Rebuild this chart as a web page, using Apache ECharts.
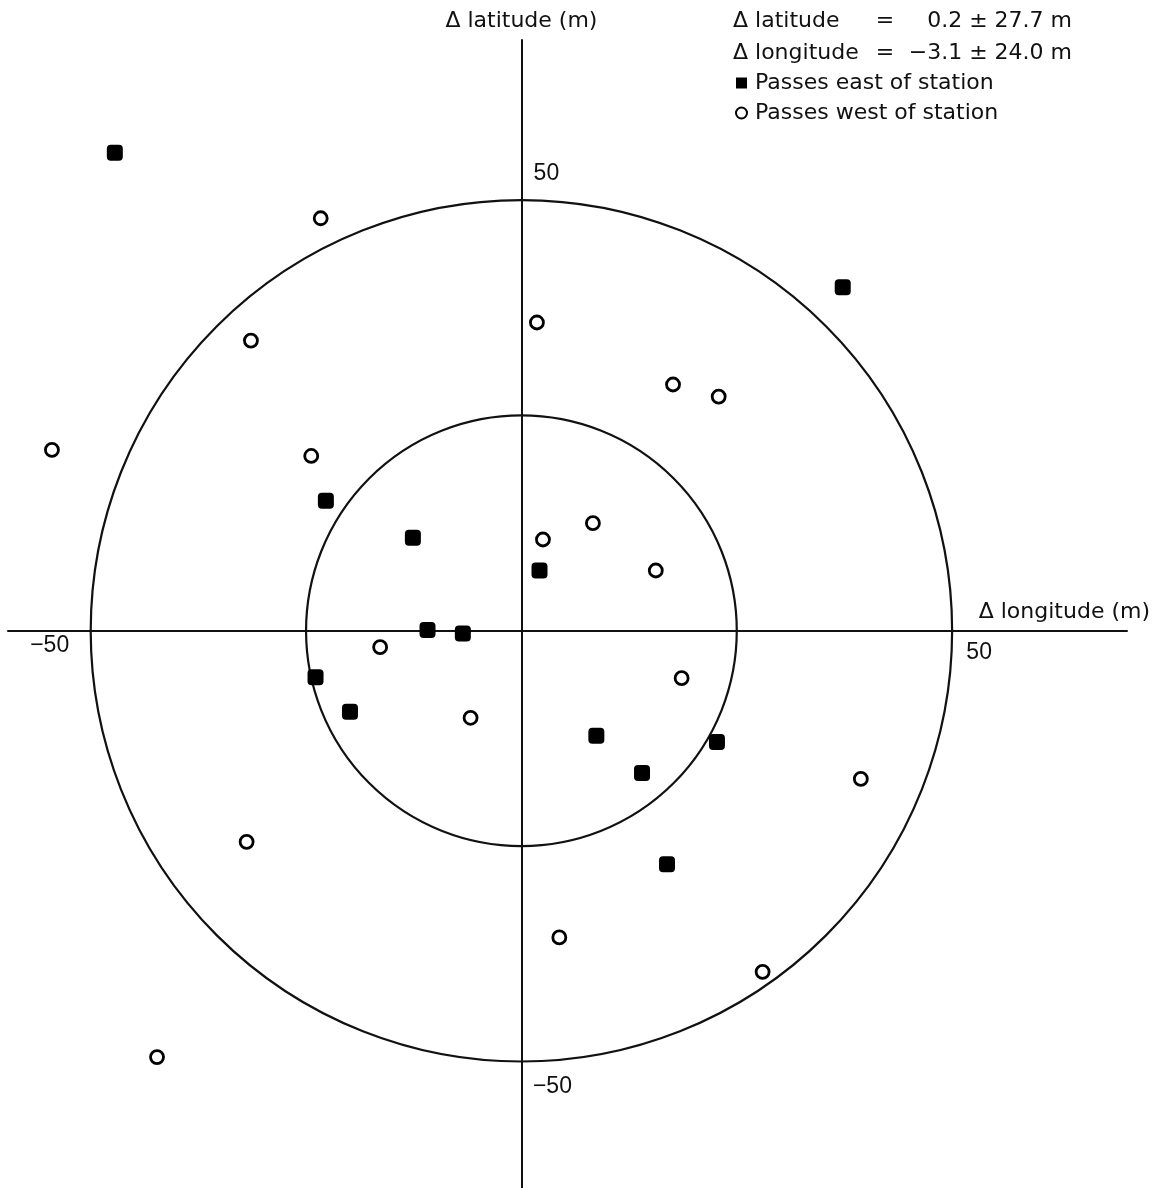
<!DOCTYPE html>
<html>
<head>
<meta charset="utf-8">
<script src="https://cdn.jsdelivr.net/npm/echarts@6/dist/echarts.min.js"></script>
<style>html,body{margin:0;padding:0;background:#fff;}#c{width:1162px;height:1188px;}</style>
</head>
<body>
<div id="c"></div>
<script>
// Passes east of station (filled squares): [Δ longitude, Δ latitude] in m
const eastPasses = [
  [-47.2, 55.5], [37.3, 39.9], [-22.7, 15.1], [-12.6, 10.8], [2.1, 7.0],
  [-10.9, 0.1], [-6.8, -0.3], [-23.9, -5.4], [-19.9, -9.4], [8.7, -12.2],
  [22.7, -12.9], [14.0, -16.5], [16.9, -27.1]
];
// Passes west of station (open circles)
const westPasses = [
  [-23.3, 47.9], [-31.4, 33.7], [1.8, 35.8], [17.6, 28.6], [22.9, 27.2],
  [-54.5, 21.0], [-24.4, 20.3], [8.3, 12.5], [2.5, 10.6], [15.6, 7.0],
  [-16.4, -1.9], [18.6, -5.5], [-5.9, -10.1], [39.4, -17.2], [-31.9, -24.5],
  [4.4, -35.6], [28.0, -39.6], [-42.3, -49.5]
];
const ringRadii = [25, 50];
const xTickValues = [-50, 50];
const xTickLabels = ['\u221250', '50'];
const yTickValues = [50, -50];
const yTickLabels = ['50', '\u221250'];
const seriesNames = ['Passes east of station', 'Passes west of station'];
const statsLines = [
  ['\u0394 latitude', '=', '0.2 \u00b1 27.7 m'],
  ['\u0394 longitude', '=', '\u22123.1 \u00b1 24.0 m']
];

const FONT = 'DejaVu Sans';
const TICKFONT = 'Liberation Sans';
const INK = '#111';
const FS = 22;

const chart = echarts.init(document.getElementById('c'), null, {renderer: 'canvas'});

const tickData = [];
xTickValues.forEach((v, i) => tickData.push({
  value: [v, 0], text: xTickLabels[i],
  offset: i === 0 ? [-41, 15] : [27, 22]
}));
yTickValues.forEach((v, i) => tickData.push({
  value: [0, v], text: yTickLabels[i],
  offset: i === 0 ? [25, -27] : [31, 25]
}));

const statsText = statsLines.map(l => '{a|' + l[0] + '}{b|' + l[1] + '}{c|' + l[2] + '}').join('\n');

chart.setOption({
  animation: false,
  backgroundColor: '#fff',
  textStyle: {fontFamily: FONT, color: INK},
  title: {
    left: 733, top: 1, padding: [4, 0, 0, 0],
    text: statsText,
    textStyle: {
      fontFamily: FONT, fontWeight: 'normal', fontSize: FS, color: INK, lineHeight: 32,
      rich: {
        a: {fontFamily: FONT, fontSize: FS, color: INK, width: 142, lineHeight: 32},
        b: {fontFamily: FONT, fontSize: FS, color: INK, width: 20, align: 'center', lineHeight: 32},
        c: {fontFamily: FONT, fontSize: FS, color: INK, width: 177, align: 'right', lineHeight: 32}
      }
    }
  },
  legend: {
    orient: 'vertical', left: 735, top: 72, padding: 0,
    itemWidth: 11, itemHeight: 11, itemGap: 8,
    textStyle: {fontFamily: FONT, fontSize: FS, color: INK, padding: [0, 0, 0, 3]},
    data: [
      {name: seriesNames[0], icon: 'rect'},
      {name: seriesNames[1], icon: 'circle'}
    ]
  },
  grid: {left: 8, right: 35, top: 40, bottom: 0, containLabel: false},
  xAxis: {
    type: 'value', min: -59.6, max: 70.3,
    axisLine: {onZero: true, lineStyle: {color: INK, width: 2}},
    axisTick: {show: false}, axisLabel: {show: false}, splitLine: {show: false},
    name: '\u0394 longitude (m)', nameLocation: 'end', nameGap: 23,
    nameTextStyle: {fontFamily: FONT, fontSize: FS, color: INK, align: 'right', verticalAlign: 'bottom', padding: [0, 0, 8, 0]}
  },
  yAxis: {
    type: 'value', min: -64.7, max: 68.6,
    axisLine: {onZero: true, lineStyle: {color: INK, width: 2}},
    axisTick: {show: false}, axisLabel: {show: false}, splitLine: {show: false},
    name: '\u0394 latitude (m)', nameLocation: 'end', nameGap: 8,
    nameTextStyle: {fontFamily: FONT, fontSize: FS, color: INK, align: 'center', verticalAlign: 'bottom'}
  },
  series: [
    {
      type: 'custom', name: 'rings', silent: true, z: 1,
      data: ringRadii.map(r => [0, 0, r]),
      encode: {x: 0, y: 1},
      clip: false,
      renderItem: function (params, api) {
        const c = api.coord([api.value(0), api.value(1)]);
        const r = api.size([api.value(2), 0])[0];
        return {type: 'circle', shape: {cx: c[0], cy: c[1], r: r},
          style: {fill: 'none', stroke: INK, lineWidth: 2.2}};
      }
    },
    {
      type: 'scatter', name: 'ticks', silent: true, z: 3,
      symbolSize: 0,
      itemStyle: {opacity: 1},
      data: tickData.map(t => ({
        value: t.value,
        label: {show: true, formatter: t.text, position: 'inside', offset: t.offset,
          fontFamily: TICKFONT, fontSize: 23, color: INK, opacity: 1}
      }))
    },
    {
      type: 'scatter', name: seriesNames[0], z: 5,
      symbol: 'roundRect', symbolSize: 16,
      itemStyle: {color: '#000', opacity: 1},
      data: eastPasses
    },
    {
      type: 'scatter', name: seriesNames[1], z: 5,
      symbol: 'circle', symbolSize: 13,
      itemStyle: {color: '#fff', borderColor: '#000', borderWidth: 2.8, opacity: 1},
      data: westPasses
    }
  ]
});
</script>
</body>
</html>
